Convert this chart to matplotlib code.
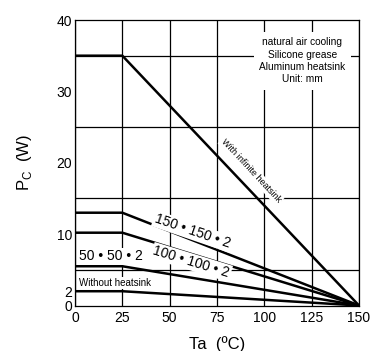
import matplotlib.pyplot as plt
import numpy as np

plt.rcParams['font.family'] = ['Liberation Sans', 'DejaVu Sans']

# --- data ---
ta_points = [0, 25, 150]
infinite_pc = [35, 35, 0]
hs150_pc = [13, 13, 0]
hs100_pc = [10.2, 10.2, 0]
hs50_pc = [5.5, 5.5, 0]
no_hs_pc = [2, 2, 0]

x_ticks = [0, 25, 50, 75, 100, 125, 150]
y_ticks = [0, 2, 10, 20, 30, 40]

fig = plt.figure(figsize=(3.83, 3.51), dpi=100)
ax = fig.add_axes([75 / 383, 1 - 305.5 / 351, 284 / 383, 285.5 / 351])

ax.set_xlim(0, 150)
ax.set_ylim(0, 40)
ax.set_xticks(x_ticks)
ax.set_yticks(y_ticks)
ax.set_yticks(np.arange(0, 41, 5), minor=True)
ax.tick_params(length=0, labelsize=10, pad=2)
ax.tick_params(axis='x', pad=4)
ax.tick_params(which='minor', length=0)
ax.grid(True, which='major', axis='x', color='black', lw=0.9)
ax.grid(True, which='minor', axis='y', color='black', lw=0.9)
ax.set_axisbelow(True)
for s in ax.spines.values():
    s.set_linewidth(0.9)

for pc in [infinite_pc, hs150_pc, hs100_pc, hs50_pc, no_hs_pc]:
    ax.plot(ta_points, pc, color='black', lw=1.8, solid_capstyle='butt', zorder=3)

ax.set_xlabel('Ta  (ºC)', fontsize=12, labelpad=8)
ax.set_ylabel('P$_\\mathregular{C}$  (W)', fontsize=12, labelpad=16)

box = dict(facecolor='white', edgecolor='none', pad=1)

# note box, top right
ax.text(120, 37.6, 'natural air cooling\nSilicone grease\nAluminum heatsink\nUnit: mm',
        ha='center', va='top', fontsize=7.3, linespacing=1.3,
        bbox=dict(facecolor='white', edgecolor='none', pad=4), zorder=4)

ax.text(93, 18.9, 'With infinite heatsink', rotation=-47, ha='center', va='center',
        fontsize=6.5, bbox=box, zorder=4, rotation_mode='anchor')
ax.text(62, 10.4, '150 • 150 • 2', rotation=-19, ha='center', va='center',
        fontsize=10, bbox=box, zorder=4, rotation_mode='anchor')
ax.text(61.5, 6.1, '100 • 100 • 2', rotation=-17, ha='center', va='center',
        fontsize=10, bbox=box, zorder=4, rotation_mode='anchor')
ax.text(19, 6.9, '50 • 50 • 2', ha='center', va='center',
        fontsize=10, bbox=box, zorder=4)
ax.text(21, 3.15, 'Without heatsink', ha='center', va='center',
        fontsize=7, bbox=box, zorder=4)

fig.savefig('out.png', dpi=100)
